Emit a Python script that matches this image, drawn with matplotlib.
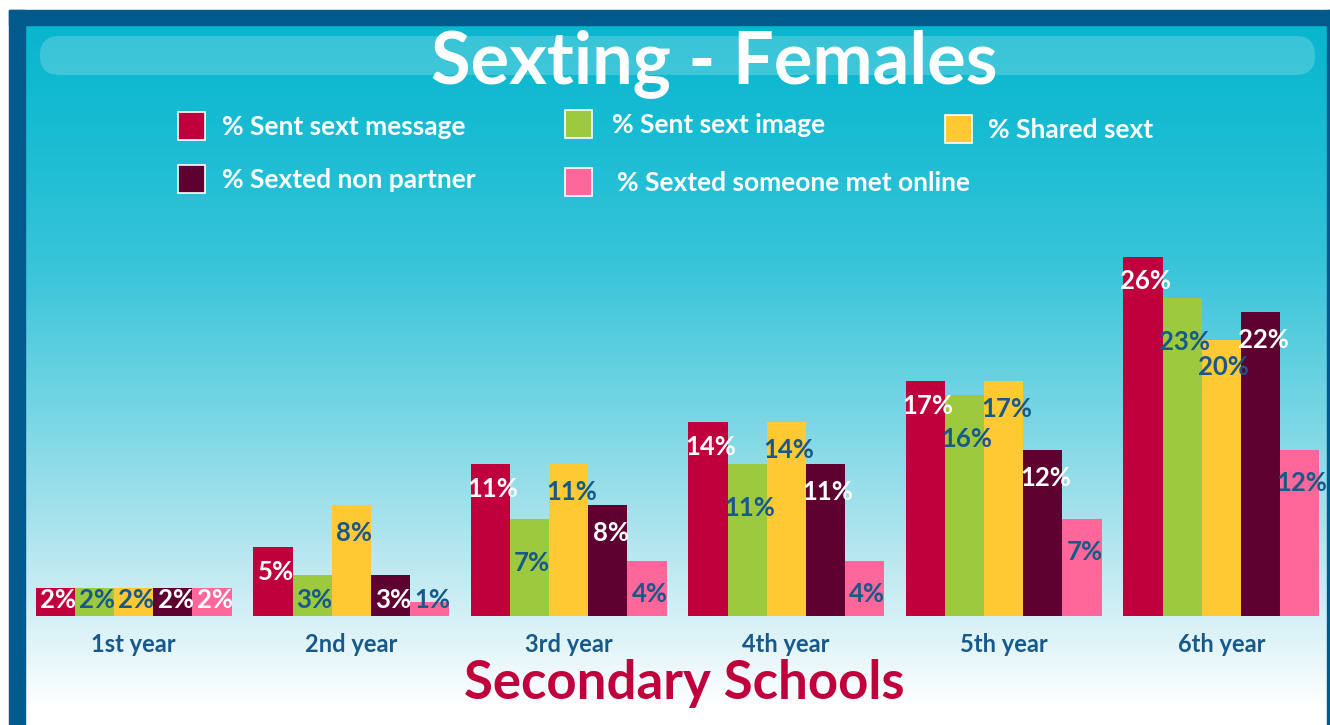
import numpy as np
import matplotlib
matplotlib.use('Agg')
import matplotlib.pyplot as plt
from matplotlib.patches import Rectangle, FancyBboxPatch
from matplotlib.colors import LinearSegmentedColormap

plt.rcParams['font.family'] = ['Lato', 'DejaVu Sans']

# data
years = ['1st year', '2nd year', '3rd year', '4th year', '5th year', '6th year']
series = ['% Sent sext message', '% Sent sext image', '% Shared sext',
          '% Sexted non partner', '% Sexted someone met online']
sent_message = [2, 5, 11, 14, 17, 26]
sent_image = [2, 3, 7, 11, 16, 23]
shared = [2, 8, 11, 14, 17, 20]
non_partner = [2, 3, 8, 11, 12, 22]
met_online = [2, 1, 4, 4, 7, 12]
values = [sent_message, sent_image, shared, non_partner, met_online]

colors = ['#c0003c', '#9dc93f', '#ffc933', '#5e0030', '#ff6699']
blue = '#17598a'
label_colors = ['white', blue, blue, 'white', blue]
label_drop = [1.8, 3.2, 2.0, 2.0, 2.4]

W, H = 1330, 725
fig = plt.figure(figsize=(W / 100, H / 100), dpi=100)

# background (pixel coordinates)
bg = fig.add_axes([0, 0, 1, 1])
bg.set_xlim(0, W)
bg.set_ylim(H, 0)
bg.axis('off')
grad = LinearSegmentedColormap.from_list('bg', [
    (0.0, '#08b6ce'), (0.18, '#1bbdd3'), (0.35, '#38c4d9'),
    (0.55, '#72d4e3'), (0.72, '#a6e2ec'), (0.86, '#d2eff5'), (1.0, '#ffffff')])
g = np.linspace(0, 1, 256).reshape(-1, 1)
bg.imshow(g, cmap=grad, extent=[25, W, 708, 25], aspect='auto', zorder=0)
bg.add_patch(Rectangle((25, 708), W - 25, H - 708, color='white', zorder=0))
bg.add_patch(Rectangle((9, 10), W - 9, 15, color='#005a8c', zorder=1))
bg.add_patch(Rectangle((9, 10), 16, H - 10, color='#005a8c', zorder=1))
bg.add_patch(Rectangle((W - 3, 10), 3, H - 10, color='#005a8c', zorder=1))
bg.add_patch(FancyBboxPatch((40, 36), 1275, 39, boxstyle='round,pad=0,rounding_size=19',
                            facecolor='white', alpha=0.2, edgecolor='none', zorder=2))

bg.text(714, 64, 'Sexting - Females', color='white', fontsize=52, fontweight='bold',
        ha='center', va='center', zorder=3)
bg.text(684, 684, 'Secondary Schools', color='#c0003c', fontsize=38, fontweight='bold',
        ha='center', va='center', zorder=3)

# legend
slots = [(178, 112), (565, 110), (945, 115), (178, 165), (565, 168)]
text_x = [222, 612, 988, 222, 617]
for k, name in enumerate(series):
    x0, y0 = slots[k]
    bg.add_patch(Rectangle((x0, y0), 27, 28, facecolor=colors[k], edgecolor='white',
                           linewidth=1.2, zorder=3))
    bg.text(text_x[k], y0 + 15, name, color='white', fontsize=19, fontweight='bold',
            ha='left', va='center', zorder=3)

# bars
ax = fig.add_axes([25 / W, (H - 616) / H, (W - 25) / W, 405 / H])
ax.patch.set_alpha(0)
x = np.arange(len(years))
w = 0.18
for j, vals in enumerate(values):
    xs = x + (j - 2) * w
    ax.bar(xs, vals, width=w, color=colors[j], zorder=2)
    for i, v in enumerate(vals):
        ly = max(v - label_drop[j], 1.15)
        c = 'white' if (j == 4 and i == 0) else label_colors[j]
        ax.text(xs[i] + 0.012, ly, f'{v}%', color=c, fontsize=18.5, fontweight='bold',
                ha='center', va='center', zorder=3)
ax.set_xlim(-0.5, 5.5)
ax.set_ylim(0, 29.3)
ax.set_xticks(x)
ax.set_xticklabels(years, color=blue, fontsize=17, fontweight='bold')
ax.tick_params(axis='x', length=0, pad=12)
ax.set_yticks([])
for s in ax.spines.values():
    s.set_visible(False)

fig.savefig('out.png', dpi=100)
